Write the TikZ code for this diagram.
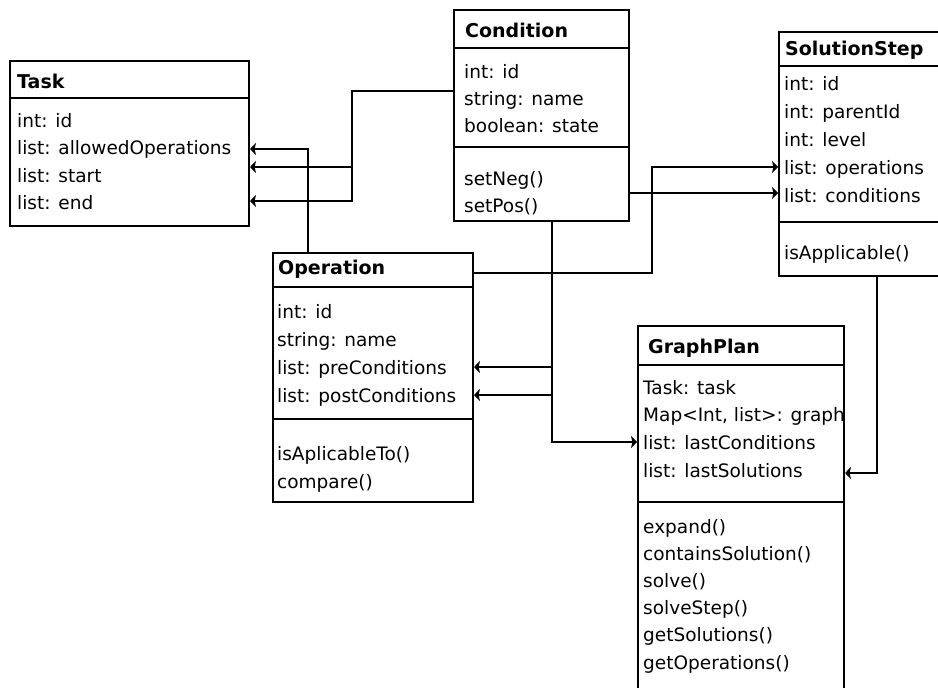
\documentclass[tikz,border=0pt]{standalone}
\usepackage{fontspec}
\setmainfont{DejaVu Sans}
\usetikzlibrary{arrows.meta}
\begin{document}
\begin{tikzpicture}[x=1pt,y=-1pt,
  box/.style={draw, line width=2pt, inner sep=0pt, anchor=north west, fill=white},
  ln/.style={line width=2pt},
  arr/.style={line width=2pt, -{Stealth[length=6pt,width=12pt,inset=1.5pt]}},
  lbl/.style={anchor=base west, inner sep=0pt, font=\fontsize{18.5}{22}\selectfont},
  hd/.style={anchor=base west, inner sep=0pt, font=\fontsize{19}{22}\selectfont\bfseries}]
\clip (0,0) rectangle (938,688);
\fill[white] (0,0) rectangle (938,688);

% ---------- boxes ----------
\node[box, minimum width=239pt, minimum height=165pt] (task) at (9,60) {};
\node[box, minimum width=175pt, minimum height=211pt] (cond) at (453,9) {};
\node[box, minimum width=167pt, minimum height=244pt] (sol) at (778,31) {};
\node[box, minimum width=200pt, minimum height=249pt] (oper) at (272,252) {};
\node[box, minimum width=206pt, minimum height=375pt] (gp) at (637,325) {};

% compartment lines
\draw[ln] ([yshift=-38pt]task.north west) -- ([yshift=-38pt]task.north east);
\draw[ln] ([yshift=-39pt]cond.north west) -- ([yshift=-39pt]cond.north east);
\draw[ln] ([yshift=-138pt]cond.north west) -- ([yshift=-138pt]cond.north east);
\draw[ln] ([yshift=-35pt]sol.north west) -- ([yshift=-35pt]sol.north east);
\draw[ln] ([yshift=-191pt]sol.north west) -- ([yshift=-191pt]sol.north east);
\draw[ln] ([yshift=-35pt]oper.north west) -- ([yshift=-35pt]oper.north east);
\draw[ln] ([yshift=-167pt]oper.north west) -- ([yshift=-167pt]oper.north east);
\draw[ln] ([yshift=-40pt]gp.north west) -- ([yshift=-40pt]gp.north east);
\draw[ln] ([yshift=-177pt]gp.north west) -- ([yshift=-177pt]gp.north east);

% ---------- texts ----------
\node[hd] (taskh) at (17,88) {Task};
\foreach \t [count=\i] in {int: id, list: allowedOperations, list: start, list: end}
  \node[lbl] (taska\i) at (17,{127+27.5*(\i-1)}) {\t};

\node[hd] (condh) at (465,37) {Condition};
\foreach \t [count=\i] in {int: id, string: name, boolean: state}
  \node[lbl] (conda\i) at (464,{78+27*(\i-1)}) {\t};
\foreach \t [count=\i] in {setNeg(), setPos()}
  \node[lbl] (condm\i) at (464,{185+27*(\i-1)}) {\t};

\node[hd] (solh) at (785,55) {SolutionStep};
\foreach \t [count=\i] in {int: id, int: parentId, int: level, list: operations, list: conditions}
  \node[lbl] (sola\i) at (784,{90+28*(\i-1)}) {\t};
\node[lbl] (solm1) at (784,259) {isApplicable()};

\node[hd] (operh) at (278,274) {Operation};
\foreach \t [count=\i] in {int: id, string: name, list: preConditions, list: postConditions}
  \node[lbl] (opera\i) at (277,{318+28*(\i-1)}) {\t};
\foreach \t [count=\i] in {isAplicableTo(), compare()}
  \node[lbl] (operm\i) at (277,{460+28*(\i-1)}) {\t};

\node[hd] (gph) at (648,353) {GraphPlan};
\foreach \t [count=\i] in {Task: task, {Map<Int, list>: graph}, list: lastConditions, list: lastSolutions}
  \node[lbl] (gpa\i) at (643,{394+27.7*(\i-1)}) {\t};
\foreach \t [count=\i] in {expand(), containsSolution(), solve(), solveStep(), getSolutions(), getOperations()}
  \node[lbl] (gpm\i) at (643,{533+27.2*(\i-1)}) {\t};

% ---------- junction points ----------
\coordinate (j1) at (352,167);
\coordinate (j2) at (352,201);
\coordinate (j3) at (652,167);
\coordinate (j4) at (552,367);
\coordinate (j5) at (552,395);
\coordinate (j6) at (552,442);
\coordinate (j7) at (877,473);

% ---------- connectors ----------
% Operation -> Task.allowedOperations
\draw[arr] ([xshift=36pt]oper.north west) |- ([yshift=-89pt]task.north east);
% Condition -> Task.start / Task.end
\draw[arr] ([yshift=-82pt]cond.north west) -| (j2) -- (task.east |- j2);
\draw[arr] (j1) -- (task.east |- j1);
% Condition -> SolutionStep.conditions
\draw[arr] ([yshift=-184pt]cond.north east) coordinate (c3) -- (sol.west |- c3);
% Operation -> SolutionStep.operations
\draw[arr] ([yshift=-21pt]oper.north east) -| (j3) -- (sol.west |- j3);
% Condition -> GraphPlan.lastConditions, Operation pre/post
\draw[arr] ([xshift=99pt]cond.south west) -- (j6) -- (gp.west |- j6);
\draw[arr] (j4) -- (oper.east |- j4);
\draw[arr] (j5) -- (oper.east |- j5);
% SolutionStep -> GraphPlan.lastSolutions
\draw[arr] ([xshift=99pt]sol.south west) -- (j7) -- (gp.east |- j7);
\end{tikzpicture}
\end{document}
